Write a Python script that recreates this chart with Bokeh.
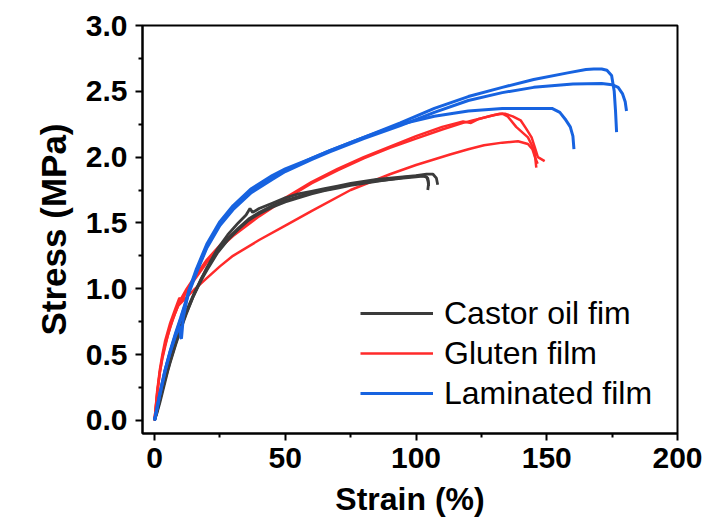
from bokeh.plotting import figure
from bokeh.models import Range1d, FixedTicker, Legend, LegendItem
from bokeh.embed import file_html
from bokeh.resources import INLINE

# ---- data ----
castor_1_x = [0, 1, 2, 3, 4, 5, 6, 8, 10, 12, 15, 18, 20, 24, 28, 32, 36, 40, 45, 50, 55, 60, 65, 70, 75, 80, 85, 90, 95, 100, 103, 104.5, 104.8, 104.5]
castor_1_y = [0, 0.08, 0.16, 0.25, 0.33, 0.40, 0.47, 0.60, 0.71, 0.82, 0.96, 1.08, 1.15, 1.28, 1.38, 1.46, 1.53, 1.58, 1.63, 1.67, 1.70, 1.73, 1.75, 1.77, 1.79, 1.81, 1.82, 1.83, 1.845, 1.855, 1.86, 1.84, 1.80, 1.75]
castor_2_x = [0, 1, 2, 3, 4, 5, 6, 8, 10, 12, 15, 18, 20, 24, 28, 32, 35, 36.5, 37.5, 40, 45, 50, 55, 60, 65, 70, 75, 80, 85, 90, 95, 100, 104, 106.5, 107.8, 108.3]
castor_2_y = [0, 0.06, 0.13, 0.21, 0.29, 0.37, 0.44, 0.57, 0.69, 0.80, 0.95, 1.08, 1.16, 1.30, 1.41, 1.50, 1.56, 1.61, 1.58, 1.61, 1.65, 1.69, 1.72, 1.74, 1.76, 1.78, 1.80, 1.815, 1.83, 1.84, 1.85, 1.86, 1.87, 1.87, 1.84, 1.79]
castor_3_x = [0, 1, 2, 3, 4, 5, 6, 8, 10, 12, 15, 18, 20, 24, 28, 32, 36, 40, 45, 50, 55, 60, 65, 70, 75, 80, 85, 90, 95, 100, 102.5, 104, 104.6, 104.8]
castor_3_y = [0, 0.07, 0.15, 0.23, 0.31, 0.38, 0.45, 0.58, 0.70, 0.81, 0.95, 1.07, 1.14, 1.27, 1.37, 1.45, 1.52, 1.57, 1.62, 1.66, 1.69, 1.72, 1.745, 1.765, 1.785, 1.80, 1.815, 1.83, 1.84, 1.85, 1.855, 1.85, 1.82, 1.78]

gluten_1_x = [0, 1, 2, 3, 4, 6, 8, 10, 12, 15, 20, 25, 30, 40, 50, 60, 70, 80, 90, 100, 110, 118, 121, 124, 128, 132, 134, 137, 140, 142, 144.2, 145.5, 146.6, 149.2]
gluten_1_y = [0, 0.2, 0.36, 0.48, 0.57, 0.71, 0.82, 0.92, 0.99, 1.08, 1.22, 1.33, 1.42, 1.56, 1.69, 1.81, 1.91, 2.0, 2.08, 2.16, 2.23, 2.27, 2.26, 2.29, 2.31, 2.33, 2.33, 2.31, 2.28, 2.22, 2.15, 2.07, 2.0, 1.97]
gluten_2_x = [0, 1, 2, 3, 4, 6, 8, 9.5, 10.5, 12, 15, 20, 25, 30, 40, 50, 60, 70, 80, 90, 100, 110, 118, 122, 126, 130, 133, 135, 138.3, 142.8, 145.3, 146]
gluten_2_y = [0, 0.22, 0.38, 0.5, 0.6, 0.74, 0.85, 0.93, 0.91, 0.97, 1.06, 1.2, 1.31, 1.40, 1.55, 1.68, 1.80, 1.90, 1.99, 2.07, 2.14, 2.21, 2.26, 2.28, 2.30, 2.32, 2.33, 2.31, 2.23, 2.15, 2.05, 1.92]
gluten_3_x = [0, 1, 2, 3, 5, 7, 9, 10.5, 12, 15, 20, 25, 30, 40, 50, 60, 75, 90, 100, 113, 120, 126, 133, 139, 142.8, 144.5, 145.5, 146.5]
gluten_3_y = [0, 0.2, 0.36, 0.47, 0.64, 0.77, 0.87, 0.9, 0.93, 0.99, 1.08, 1.17, 1.25, 1.37, 1.48, 1.59, 1.75, 1.87, 1.94, 2.02, 2.06, 2.09, 2.11, 2.12, 2.10, 2.06, 2.0, 1.95]

laminated_1_x = [0, 1, 2, 4, 6, 8, 10, 13, 16, 20, 25, 30, 37, 45, 50, 60, 67, 80, 94, 107, 120, 133, 145, 158, 165, 168, 171, 173, 174.8, 175.8, 176.3, 176.7]
laminated_1_y = [0, 0.1, 0.2, 0.38, 0.53, 0.66, 0.78, 0.97, 1.13, 1.32, 1.49, 1.61, 1.74, 1.84, 1.9, 1.99, 2.05, 2.15, 2.26, 2.37, 2.46, 2.53, 2.59, 2.64, 2.665, 2.67, 2.67, 2.66, 2.62, 2.5, 2.35, 2.19]
laminated_2_x = [0, 1, 2, 4, 6, 8, 10, 13, 16, 20, 25, 30, 37, 45, 50, 60, 67, 80, 94, 107, 120, 133, 145, 160, 171, 175, 177.3, 179, 180, 180.5]
laminated_2_y = [0, 0.09, 0.19, 0.37, 0.52, 0.65, 0.77, 0.96, 1.12, 1.31, 1.48, 1.60, 1.73, 1.83, 1.89, 1.98, 2.04, 2.14, 2.24, 2.34, 2.43, 2.49, 2.53, 2.555, 2.56, 2.55, 2.53, 2.48, 2.42, 2.35]
laminated_3_x = [0, 1, 2, 4, 6, 8, 9.5, 10, 10.3, 11, 13, 16, 20, 25, 30, 37, 45, 50, 60, 67, 80, 94, 107, 120, 133, 145, 152, 155, 157, 159, 160, 160.4]
laminated_3_y = [0, 0.1, 0.2, 0.38, 0.52, 0.64, 0.72, 0.63, 0.62, 0.78, 0.98, 1.15, 1.34, 1.51, 1.63, 1.76, 1.86, 1.91, 1.99, 2.05, 2.15, 2.25, 2.31, 2.35, 2.37, 2.37, 2.37, 2.34, 2.29, 2.23, 2.16, 2.06]

series_names = ["Castor oil fim", "Gluten film", "Laminated film"]
x_ticks = [0, 50, 100, 150, 200]
x_minor = [25, 75, 125, 175]
y_ticks = [0.0, 0.5, 1.0, 1.5, 2.0, 2.5, 3.0]
y_minor = [0.25, 0.75, 1.25, 1.75, 2.25, 2.75]

COL_CASTOR = "#3b3b3b"
COL_GLUTEN = "#ff2a2a"
COL_LAM = "#1763e0"
FONT = "Liberation Sans"

p = figure(width=719, height=524, output_backend="svg", toolbar_location=None,
           x_range=Range1d(-4.6, 200), y_range=Range1d(-0.1, 3.0),
           min_border_left=142, min_border_right=42, min_border_top=25, min_border_bottom=91)
p.grid.visible = False
p.outline_line_color = "black"
p.outline_line_width = 2
p.background_fill_color = "white"
p.border_fill_color = "white"

gl = []
for xs, ys in [(gluten_1_x, gluten_1_y), (gluten_2_x, gluten_2_y), (gluten_3_x, gluten_3_y)]:
    gl.append(p.line(xs, ys, line_color=COL_GLUTEN, line_width=2.5))
cl = []
for xs, ys in [(castor_1_x, castor_1_y), (castor_2_x, castor_2_y), (castor_3_x, castor_3_y)]:
    cl.append(p.line(xs, ys, line_color=COL_CASTOR, line_width=2.8))
ll = []
for xs, ys in [(laminated_1_x, laminated_1_y), (laminated_2_x, laminated_2_y), (laminated_3_x, laminated_3_y)]:
    ll.append(p.line(xs, ys, line_color=COL_LAM, line_width=3))

for ax in (p.xaxis[0], p.yaxis[0]):
    ax.axis_line_width = 2
    ax.axis_line_color = "black"
    ax.major_tick_line_width = 2
    ax.minor_tick_line_width = 2
    ax.major_tick_in = 0
    ax.minor_tick_in = 0
    ax.major_tick_out = 7
    ax.minor_tick_out = 4
    ax.major_label_text_font = FONT
    ax.major_label_text_font_style = "bold"
    ax.major_label_text_font_size = "30px"
    ax.major_label_text_color = "black"
    ax.axis_label_text_font = FONT
    ax.axis_label_text_font_style = "bold"
    ax.axis_label_text_color = "black"

p.xaxis[0].ticker = FixedTicker(ticks=x_ticks, minor_ticks=x_minor)
p.yaxis[0].ticker = FixedTicker(ticks=y_ticks, minor_ticks=y_minor)
p.xaxis[0].major_label_overrides = {t: str(t) for t in x_ticks}
p.yaxis[0].major_label_overrides = {t: f"{t:.1f}" for t in y_ticks}
p.xaxis[0].axis_label = "Strain (%)"
p.yaxis[0].axis_label = "Stress (MPa)"
p.xaxis[0].axis_label_text_font_size = "32px"
p.yaxis[0].axis_label_text_font_size = "35px"
p.xaxis[0].major_label_standoff = 7
p.yaxis[0].major_label_standoff = 8
p.xaxis[0].axis_label_standoff = 10
p.yaxis[0].axis_label_standoff = 10

legend = Legend(items=[LegendItem(label=series_names[0], renderers=[cl[0]]),
                       LegendItem(label=series_names[1], renderers=[gl[0]]),
                       LegendItem(label=series_names[2], renderers=[ll[0]])],
                location=(218, 20))
legend.border_line_color = None
legend.background_fill_alpha = 0
legend.padding = 0
legend.margin = 0
legend.spacing = 0
legend.glyph_width = 73
legend.glyph_height = 40
legend.label_height = 40
legend.label_standoff = 11
legend.label_text_font = FONT
legend.label_text_font_size = "32px"
legend.label_text_color = "black"
p.add_layout(legend, "center")

open("out.html", "w").write(file_html(p, INLINE))
